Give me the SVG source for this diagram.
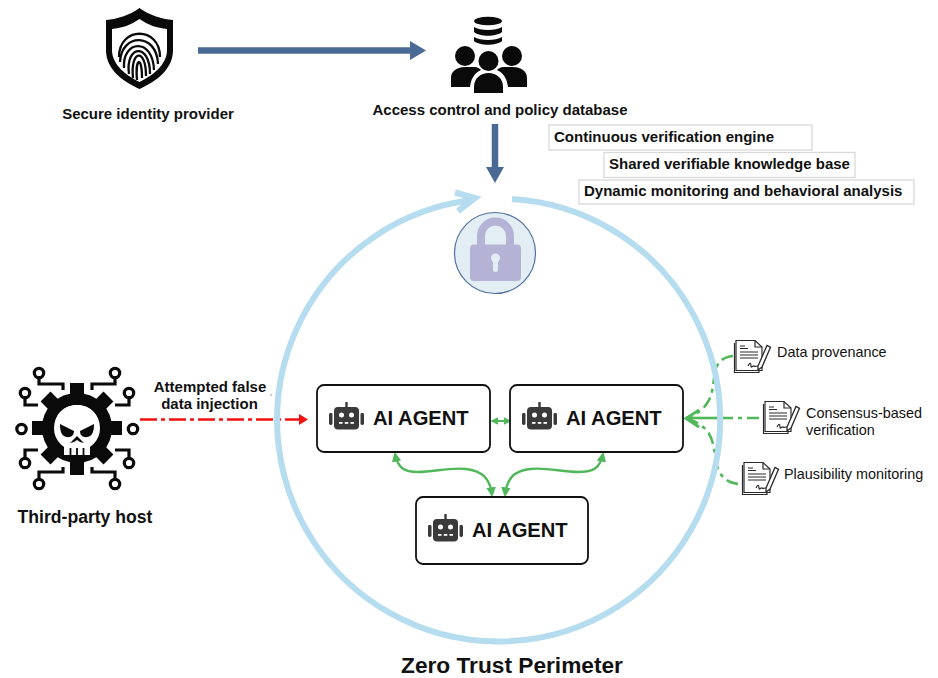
<svg xmlns="http://www.w3.org/2000/svg" width="938" height="678" viewBox="0 0 938 678">
<style>
text{font-family:"Liberation Sans",Arial,sans-serif;fill:#111}
.b{font-weight:700;font-size:15px}
.n{font-size:14.400px}
.agent{fill:#fff;stroke:#111;stroke-width:1.8}
.at{font-weight:700;font-size:20.200px}
.tag{fill:#fff;stroke:#d9d9d9;stroke-width:1.3}
.blue{fill:none;stroke:#4a6a96;stroke-width:6.500}
.g{fill:none;stroke:#50b85a;stroke-width:2.400}
.gd{fill:none;stroke:#50b85a;stroke-width:2.600;stroke-dasharray:12 5 4 5}
.ic{fill:#3a3a3a}
.dl{fill:none;stroke:#2a2a2a;stroke-width:1.200}
.k{fill:#0a0a0a}
</style>
<defs>
<marker id="gh" viewBox="0 0 10 10" refX="8" refY="5" markerWidth="4" markerHeight="4" orient="auto-start-reverse"><path d="M0 0L10 5L0 10z" fill="#50b85a"/></marker>
<symbol id="robot" width="36" height="28" viewBox="0 0 36 28" overflow="visible">
<rect x="0" y="11" width="3.500" height="12" rx="1.400" class="ic"/><rect x="31.500" y="11" width="3.500" height="12" rx="1.400" class="ic"/>
<rect x="16.300" y="0" width="2.400" height="6" class="ic"/>
<rect x="5" y="5" width="25" height="22.500" rx="4" class="ic"/>
<circle cx="12.500" cy="13" r="2.500" fill="#fff"/><circle cx="22.500" cy="13" r="2.500" fill="#fff"/>
<rect x="10" y="20" width="3.500" height="1.800" fill="#fff"/><rect x="15.800" y="20" width="3.500" height="1.800" fill="#fff"/><rect x="21.500" y="20" width="3.500" height="1.800" fill="#fff"/>
</symbol>
<symbol id="doc" width="38" height="36" viewBox="0 0 38 36" overflow="visible">
<path class="dl" d="M0.500 4V33.500H25V31"/>
<path d="M2 1.500H21L28 8V31.500H2z" fill="#fff" stroke="#2a2a2a" stroke-width="1.200"/>
<path class="dl" d="M21 1.500V8H28M6 7H11M6 9.500H14M6 13H24M6 16H24M6 19H24M14 27c2-4 3-3 3 0s2-1 3 0 2 0 4 0"/>
<path d="M24 27L33 6.500l3.500 1.800L28 28l-4 3z" fill="#fff" stroke="#2a2a2a" stroke-width="1.300"/>
</symbol>
<clipPath id="shieldIn"><path d="M139.500 19C131 25 122 28 112 29V50C112 65 127 76 139.500 82C152 76 167 65 167 50V29C157 28 148 25 139.500 19Z"/></clipPath>
</defs>

<g id="connectors">
<path d="M198 50.500H415" class="blue"/><path d="M410 41L426 50.500L410 60z" fill="#4a6a96"/>
<path d="M495 124V170" class="blue"/><path d="M486 167H504L495 183z" fill="#4a6a96"/>
<path d="M140 419.500H300" fill="none" stroke="#f01010" stroke-width="2.400" stroke-dasharray="17 4 4 4"/><path d="M299 414L308 419.500L299 425z" fill="#f01010"/>
<path d="M492 421H510" class="g" style="stroke-width:2" marker-start="url(#gh)" marker-end="url(#gh)"/>
<path d="M395 454C398 468 404 472 418 472C434 472 450 467 466 469C482 471 490 478 492 495" class="g" marker-start="url(#gh)" marker-end="url(#gh)"/>
<path d="M603 454C600 468 594 472 578 472C562 472 546 467 530 469C514 471 507 478 505 495" class="g" marker-start="url(#gh)" marker-end="url(#gh)"/>
<path d="M733 356C722 357 717 363 715 372C713 384 713 392 709 400C704 410 695 415 686 418" class="gd"/>
<path d="M738 484C727 483 720 476 717 466C714 453 715 443 708 432C702 425 695 421 686 418" class="gd"/>
<path d="M759 418H716" class="gd"/>
<path d="M718 418H687" class="g" style="stroke-width:2.600"/>
<path d="M699 410L686 418.500L699 427" fill="none" stroke="#50b85a" stroke-width="2.800"/>
<path d="M692 414L685 418.500L692 423z" fill="#50b85a"/>
</g>

<g id="perimeter">
<path d="M512 198.900A221.500 221.500 0 1 1 472 200.100" fill="none" stroke="#b5ddef" stroke-width="6"/>
<path d="M455 192.500L475 198L458 211" fill="none" stroke="#b5ddef" stroke-width="6"/>
<text x="512" y="673" text-anchor="middle" font-weight="700" font-size="22.700px">Zero Trust Perimeter</text>
</g>

<g id="identity">
<path d="M139.500 8C130 15 118 19 106 20V50C106 69 122 81 139.500 89C157 81 173 69 173 50V20C161 19 149 15 139.500 8Z" class="k"/>
<path d="M139.500 19C131 25 122 28 112 29V50C112 65 127 76 139.500 82C152 76 167 65 167 50V29C157 28 148 25 139.500 19Z" fill="#fff"/>
<g clip-path="url(#shieldIn)" fill="none" stroke="#0a0a0a" stroke-width="2.300">
<path d="M119 57C119 26 160 26 160 57"/><path d="M120 62C121 33 157 32 158 64"/>
<path d="M124 68C122 40 153 37 154 70"/><path d="M129 74C125 45 150 42 150 74"/>
<path d="M133 78C130 50 146 47 146 76"/><path d="M137 80C135 58 142 55 142 78"/>
</g>
<text class="b" x="148" y="119" text-anchor="middle">Secure identity provider</text>
</g>

<g id="database">
<ellipse cx="488" cy="21" rx="14" ry="4.300" class="k"/>
<path d="M474 27C480 31 496 31 502 27V32C496 37 480 37 474 32Z" class="k"/>
<path d="M474 37C480 41 496 41 502 37V41C496 46 480 46 474 41Z" class="k"/>
<circle cx="465" cy="56" r="10" class="k"/><circle cx="512" cy="56" r="10" class="k"/>
<path d="M451 87V78C451 71 457 67 465 67H474C478 67 480 69 481 70C473 74 471 80 470 87Z" class="k"/>
<path d="M527 87V78C527 71 521 67 513 67H504C500 67 498 69 497 70C505 74 507 80 508 87Z" class="k"/>
<circle cx="488.500" cy="61" r="10" class="k"/>
<path d="M474 93V87C474 78 481 73 488.500 73C496 73 503 78 503 87V93Z" class="k"/>
<text class="b" x="500" y="115" text-anchor="middle">Access control and policy database</text>
</g>

<g id="tags">
<rect class="tag" x="549" y="125" width="263" height="25"/><text class="b" x="554" y="142">Continuous verification engine</text>
<rect class="tag" x="604" y="152.500" width="251" height="25"/><text class="b" x="609" y="169">Shared verifiable knowledge base</text>
<rect class="tag" x="579" y="180" width="335" height="24"/><text class="b" x="584" y="196">Dynamic monitoring and behavioral analysis</text>
</g>

<g id="lock">
<circle cx="495" cy="253" r="40.500" fill="#e2eef3" stroke="#52709f" stroke-width="1.200"/>
<path d="M481 248V236A14.500 14.500 0 0 1 510 236V248" fill="none" stroke="#b5b3d5" stroke-width="8"/>
<rect x="470" y="244.500" width="51" height="36.500" rx="4" fill="#b5b3d5"/>
<circle cx="495.500" cy="258" r="4.500" fill="#e2eef3"/><rect x="493" y="260" width="5" height="12" rx="2.500" fill="#e2eef3"/>
</g>

<g id="host">
<circle cx="77" cy="428" r="29" fill="none" stroke="#0a0a0a" stroke-width="12"/>
<g class="k">
<rect x="70" y="383" width="14" height="14"/><rect x="70" y="461" width="14" height="14"/><rect x="32" y="421" width="14" height="14"/><rect x="108" y="421" width="14" height="14"/>
<rect x="43.500" y="394.500" width="14" height="14" transform="rotate(45 50.500 401.500)"/><rect x="96.500" y="394.500" width="14" height="14" transform="rotate(45 103.500 401.500)"/>
<rect x="43.500" y="447.500" width="14" height="14" transform="rotate(45 50.500 454.500)"/><rect x="96.500" y="447.500" width="14" height="14" transform="rotate(45 103.500 454.500)"/>
</g>
<path d="M77 405C90 405 99 414 99 426C99 435 96 441 90 444V455H64V444C58 441 55 435 55 426C55 414 64 405 77 405Z" fill="#fff"/>
<path d="M60 424L74 431C74 438 67 438 64 436C61 434 60 430 60 424ZM94 424L80 431C80 438 87 438 90 436C93 434 94 430 94 424Z" class="k"/>
<path d="M77 436L84 443L80 442L77 440L74 442L70 443Z" class="k"/>
<path d="M70.500 448V455M77 448V455M83.500 448V455" stroke="#0a0a0a" stroke-width="1.800"/>
<g fill="none" stroke="#0a0a0a" stroke-width="3.200">
<path d="M39 378V384H63V390M115 378V384H92V390M39 479V472H63V467M115 479V472H92V467"/>
<path d="M25 398V405H38M129 398V405H115M25 458V450H38M129 458V450H115"/>
<circle cx="39" cy="373" r="4.700"/><circle cx="115" cy="373" r="4.700"/><circle cx="39" cy="484" r="4.700"/><circle cx="115" cy="484" r="4.700"/>
<circle cx="25" cy="393" r="4.700"/><circle cx="129" cy="393" r="4.700"/><circle cx="25" cy="463" r="4.700"/><circle cx="129" cy="463" r="4.700"/>
<circle cx="21.500" cy="429" r="4.700"/><circle cx="133" cy="429" r="4.700"/>
</g>
<text x="85" y="523" text-anchor="middle" font-weight="700" font-size="17.600px">Third-party host</text>
<text class="b" x="210" y="392" text-anchor="middle">Attempted false</text>
<text x="270" y="395" font-size="7px">,</text>
<text class="b" x="209.500" y="409" text-anchor="middle">data injection</text>
</g>

<g id="agent-1"><rect class="agent" x="317" y="385" width="173" height="67" rx="7"/><use href="#robot" x="329" y="402"/><text class="at" x="373" y="425">AI AGENT</text></g>
<g id="agent-2"><rect class="agent" x="510" y="385" width="173" height="67" rx="7"/><use href="#robot" x="522" y="402"/><text class="at" x="566" y="425">AI AGENT</text></g>
<g id="agent-3"><rect class="agent" x="416" y="497" width="172" height="67" rx="7"/><use href="#robot" x="428" y="514"/><text class="at" x="472" y="537">AI AGENT</text></g>

<g id="provenance"><use href="#doc" x="734" y="339"/><text class="n" x="777" y="357">Data provenance</text></g>
<g id="consensus"><use href="#doc" x="763" y="400"/><text class="n" x="806" y="418">Consensus-based</text><text class="n" x="806" y="435">verification</text></g>
<g id="plausibility"><use href="#doc" x="742" y="461"/><text class="n" x="784" y="479">Plausibility monitoring</text></g>
</svg>
